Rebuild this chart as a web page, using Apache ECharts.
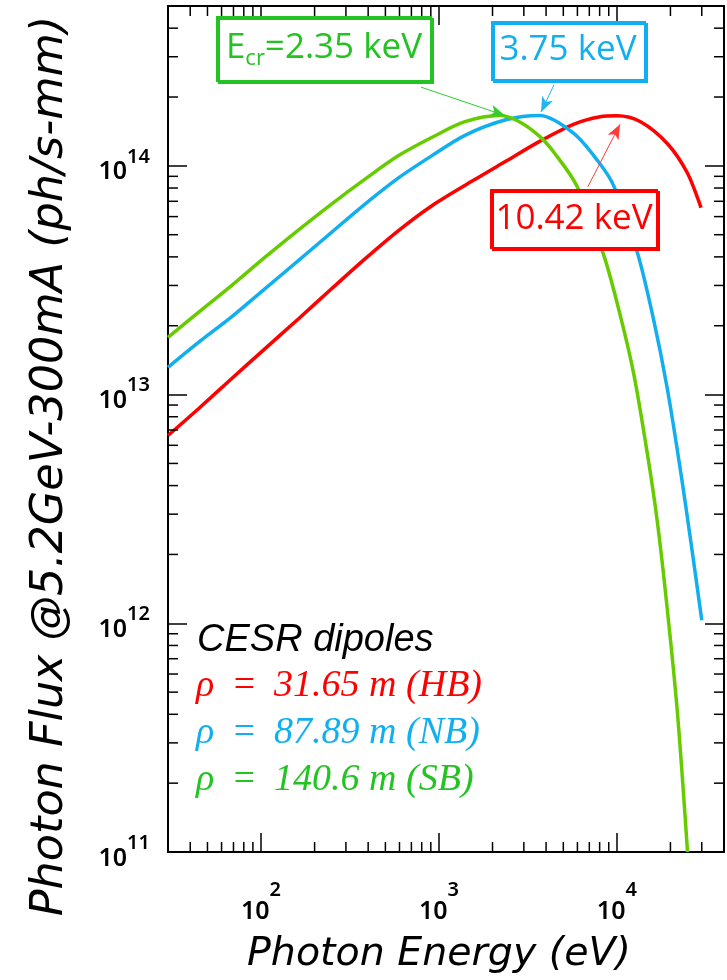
<!DOCTYPE html>
<html>
<head>
<meta charset="utf-8">
<script src="https://cdn.jsdelivr.net/npm/echarts@6/dist/echarts.min.js"></script>
<style>
  html, body { margin: 0; padding: 0; background: #ffffff; }
  #chart { width: 727px; height: 980px; }
</style>
</head>
<body>
<div id="chart"></div>
<script>
// Synchrotron photon flux of the CESR dipoles (ph/s-mm at 5.2 GeV, 300 mA)
// HB: rho = 31.65 m
const hbEnergy = [30, 44.5, 68, 105, 162, 249, 384, 590, 909, 1545, 2387, 3680, 5700, 8050, 10020, 13580, 19250, 24950, 29700];
const hbFlux   = [6.62e12, 8.67e12, 1.17e13, 1.585e13, 2.14e13, 2.9e13, 3.92e13, 5.2e13, 6.68e13, 8.6e13, 1.05e14, 1.28e14, 1.52e14, 1.64e14, 1.656e14, 1.56e14, 1.25e14, 9.28e13, 6.56e13];
// NB: rho = 87.89 m
const nbEnergy = [30, 44.5, 68, 105, 162, 249, 384, 590, 909, 1400, 2375, 3680, 5700, 7820, 9590, 13000, 16140, 19250, 22900, 26070, 30000];
const nbFlux   = [1.315e13, 1.69e13, 2.18e13, 2.9e13, 3.85e13, 5.12e13, 6.81e13, 8.84e13, 1.106e14, 1.36e14, 1.59e14, 1.66e14, 1.39e14, 1.05e14, 8.2e13, 4.21e13, 2.1e13, 1.05e13, 4.53e12, 2.26e12, 1.03e12];
// SB: rho = 140.6 m
const sbEnergy = [30, 44.5, 68, 105, 162, 249, 384, 590, 909, 1400, 2190, 2780, 3680, 4490, 5940, 8410, 10460, 12470, 14830, 16900, 19250, 21930, 24950];
const sbFlux   = [1.78e13, 2.29e13, 2.99e13, 3.98e13, 5.24e13, 6.81e13, 8.75e13, 1.106e14, 1.33e14, 1.56e14, 1.66e14, 1.57e14, 1.345e14, 1.13e14, 8.2e13, 4.1e13, 2.21e13, 1.22e13, 5.52e12, 2.76e12, 1.13e12, 4.0e11, 1.0e11];

// Critical energies (eV) in order HB, NB, SB, and the arrows pointing at them
const criticalEnergy = [10420, 3750, 2350];
const criticalLabels = ['10.42 keV', '3.75 keV', '=2.35 keV'];
const arrowTailEnergy = [6870, 4430, 792];
const arrowTailFlux = [8.1e13, 2.26e14, 2.21e14];
const arrowTipFlux = [1.52e14, 1.72e14, 1.66e14];

// Axis ranges and tick values
const xRange = [30, 40000];
const yRange = [1e11, 5e14];
const xMinorTicks = [40, 50, 60, 70, 80, 90, 200, 300, 400, 500, 600, 700, 800, 900,
  2000, 3000, 4000, 5000, 6000, 7000, 8000, 9000, 20000, 30000];
const yMinorTicks = [2e11, 3e11, 4e11, 5e11, 6e11, 7e11, 8e11, 9e11,
  2e12, 3e12, 4e12, 5e12, 6e12, 7e12, 8e12, 9e12,
  2e13, 3e13, 4e13, 5e13, 6e13, 7e13, 8e13, 9e13,
  2e14, 3e14, 4e14];

const legendLines = ['\u03C1 \u2009= \u200931.65 m (HB)', '\u03C1 \u2009= \u200987.89 m (NB)', '\u03C1 \u2009= \u2009140.6 m (SB)'];

const RED = '#ff0000';
const BLUE = '#12aff0';
const GREEN_LINE = '#66cc00';
const GREEN_TEXT = '#22c322';
const lineColors = [RED, BLUE, GREEN_LINE];
const arrowColors = ['#ff3b3b', '#25b4f0', '#33cc33'];
const textColors = [RED, BLUE, GREEN_TEXT];

const MAJOR = 19;
const MINOR = 10;

const chart = echarts.init(document.getElementById('chart'), null, { renderer: 'canvas' });

function powLabel(value) {
  const e = Math.round(Math.log10(value));
  return '{b|10}{s|' + e + '}';
}

const labelRich = {
  b: { fontSize: 25, fontFamily: 'Noto Sans', fontWeight: 600, color: '#000', verticalAlign: 'bottom' },
  s: { fontSize: 20, fontFamily: 'Noto Sans', fontWeight: 600, color: '#000', verticalAlign: 'top' }
};

function curveSeries(name, energy, flux, i) {
  return {
    type: 'line',
    name: name,
    data: energy.map((e, k) => [e, flux[k]]),
    showSymbol: false,
    smooth: 0.3,
    lineStyle: { color: lineColors[i], width: 3.5 },
    itemStyle: { color: lineColors[i] },
    z: 3,
    markLine: {
      silent: true,
      animation: false,
      symbol: ['none', 'arrow'],
      symbolSize: [9, 15],
      label: { show: false },
      lineStyle: { color: arrowColors[i], width: 1, type: 'solid' },
      data: [[
        { coord: [arrowTailEnergy[i], arrowTailFlux[i]] },
        { coord: [criticalEnergy[i], arrowTipFlux[i]] }
      ]]
    }
  };
}

const tickStyle = { stroke: '#000', lineWidth: 1.5 };

function logAxisBase(range) {
  return {
    type: 'log',
    logBase: 10,
    min: range[0],
    max: range[1],
    splitLine: { show: false },
    minorTick: { show: false },
    axisLine: { show: true, onZero: false, lineStyle: { color: '#000', width: 2 } },
    axisTick: { show: true, inside: true, length: MAJOR, lineStyle: { color: '#000', width: 1.5 } }
  };
}

function boxGraphic(x, y, w, h, color) {
  return {
    type: 'rect', z: 100,
    shape: { x: x, y: y, width: w, height: h },
    style: { fill: '#fff', stroke: color, lineWidth: 2, shadowColor: color, shadowOffsetX: 2, shadowOffsetY: 2, shadowBlur: 0 }
  };
}

const option = {
  backgroundColor: '#ffffff',
  animation: false,
  grid: { left: 168, right: 3, top: 6, bottom: 128, containLabel: false },
  xAxis: [
    Object.assign(logAxisBase(xRange), {
      position: 'bottom',
      axisLabel: {
        show: true, margin: 28, showMinLabel: false, showMaxLabel: false,
        lineHeight: 44, formatter: powLabel, rich: labelRich
      }
    }),
    Object.assign(logAxisBase(xRange), { position: 'top', axisLabel: { show: false } })
  ],
  yAxis: [
    Object.assign(logAxisBase(yRange), {
      position: 'left',
      axisLabel: {
        show: true, margin: 18, showMinLabel: true, showMaxLabel: false,
        lineHeight: 38, formatter: powLabel, rich: labelRich
      }
    }),
    Object.assign(logAxisBase(yRange), { position: 'right', axisLabel: { show: false } })
  ],
  series: [
    curveSeries('HB', hbEnergy, hbFlux, 0),
    curveSeries('NB', nbEnergy, nbFlux, 1),
    curveSeries('SB', sbEnergy, sbFlux, 2),
    {
      // minor ticks along bottom and top
      type: 'custom', coordinateSystem: 'cartesian2d', silent: true, z: 5,
      data: xMinorTicks.map(v => [v, yRange[0]]),
      renderItem: function (params, api) {
        const cs = params.coordSys;
        const p = api.coord([api.value(0), api.value(1)]);
        return {
          type: 'group', children: [
            { type: 'line', shape: { x1: p[0], y1: cs.y + cs.height, x2: p[0], y2: cs.y + cs.height - MINOR }, style: tickStyle },
            { type: 'line', shape: { x1: p[0], y1: cs.y, x2: p[0], y2: cs.y + MINOR }, style: tickStyle }
          ]
        };
      }
    },
    {
      // minor ticks along left and right
      type: 'custom', coordinateSystem: 'cartesian2d', silent: true, z: 5,
      data: yMinorTicks.map(v => [xRange[0], v]),
      renderItem: function (params, api) {
        const cs = params.coordSys;
        const p = api.coord([api.value(0), api.value(1)]);
        return {
          type: 'group', children: [
            { type: 'line', shape: { x1: cs.x, y1: p[1], x2: cs.x + MINOR, y2: p[1] }, style: tickStyle },
            { type: 'line', shape: { x1: cs.x + cs.width, y1: p[1], x2: cs.x + cs.width - MINOR, y2: p[1] }, style: tickStyle }
          ]
        };
      }
    }
  ],
  graphic: [
    // critical-energy boxes
    boxGraphic(217, 17, 214, 64, GREEN_TEXT),
    {
      type: 'text', z: 101, x: 324, y: 48,
      style: {
        text: '{a|E}{c|cr}{a|' + criticalLabels[2] + '}',
        align: 'center', verticalAlign: 'middle',
        rich: {
          a: { fontSize: 35, fontFamily: 'Open Sans', fill: GREEN_TEXT, lineHeight: 44, verticalAlign: 'middle' },
          c: { fontSize: 22, fontFamily: 'Open Sans', fill: GREEN_TEXT, lineHeight: 44, verticalAlign: 'bottom' }
        }
      }
    },
    boxGraphic(492, 22, 153, 58, BLUE),
    {
      type: 'text', z: 101, x: 568, y: 50,
      style: { text: criticalLabels[1], align: 'center', verticalAlign: 'middle', fontSize: 35, fontFamily: 'Open Sans', fill: BLUE }
    },
    boxGraphic(491, 190, 166, 58, RED),
    {
      type: 'text', z: 101, x: 574, y: 219,
      style: { text: criticalLabels[0], align: 'center', verticalAlign: 'middle', fontSize: 35, fontFamily: 'Open Sans', fill: RED }
    },
    // legend block
    {
      type: 'text', z: 101, x: 197, y: 640,
      style: { text: 'CESR dipoles', verticalAlign: 'middle', fontSize: 38, fontStyle: 'italic', fontFamily: 'Liberation Sans', fill: '#000' }
    },
    {
      type: 'text', z: 101, x: 196, y: 686,
      style: { text: legendLines[0], verticalAlign: 'middle', fontSize: 38, fontStyle: 'italic', fontFamily: 'Liberation Serif', fill: textColors[0] }
    },
    {
      type: 'text', z: 101, x: 196, y: 733,
      style: { text: legendLines[1], verticalAlign: 'middle', fontSize: 38, fontStyle: 'italic', fontFamily: 'Liberation Serif', fill: textColors[1] }
    },
    {
      type: 'text', z: 101, x: 196, y: 780,
      style: { text: legendLines[2], verticalAlign: 'middle', fontSize: 38, fontStyle: 'italic', fontFamily: 'Liberation Serif', fill: textColors[2] }
    },
    // axis titles
    {
      type: 'text', z: 101, x: 439, y: 955,
      style: { text: 'Photon Energy (eV)', align: 'center', verticalAlign: 'middle', fontSize: 39.5, fontStyle: 'italic', fontFamily: 'DejaVu Sans', fill: '#000' }
    },
    {
      type: 'text', z: 101, x: 50, y: 466, rotation: Math.PI / 2,
      style: { text: 'Photon Flux @5.2GeV-300mA (ph/s-mm)', align: 'center', verticalAlign: 'middle', fontSize: 44.5, fontStyle: 'italic', fontFamily: 'DejaVu Sans', fill: '#000' }
    }
  ]
};

chart.setOption(option);
</script>
</body>
</html>
